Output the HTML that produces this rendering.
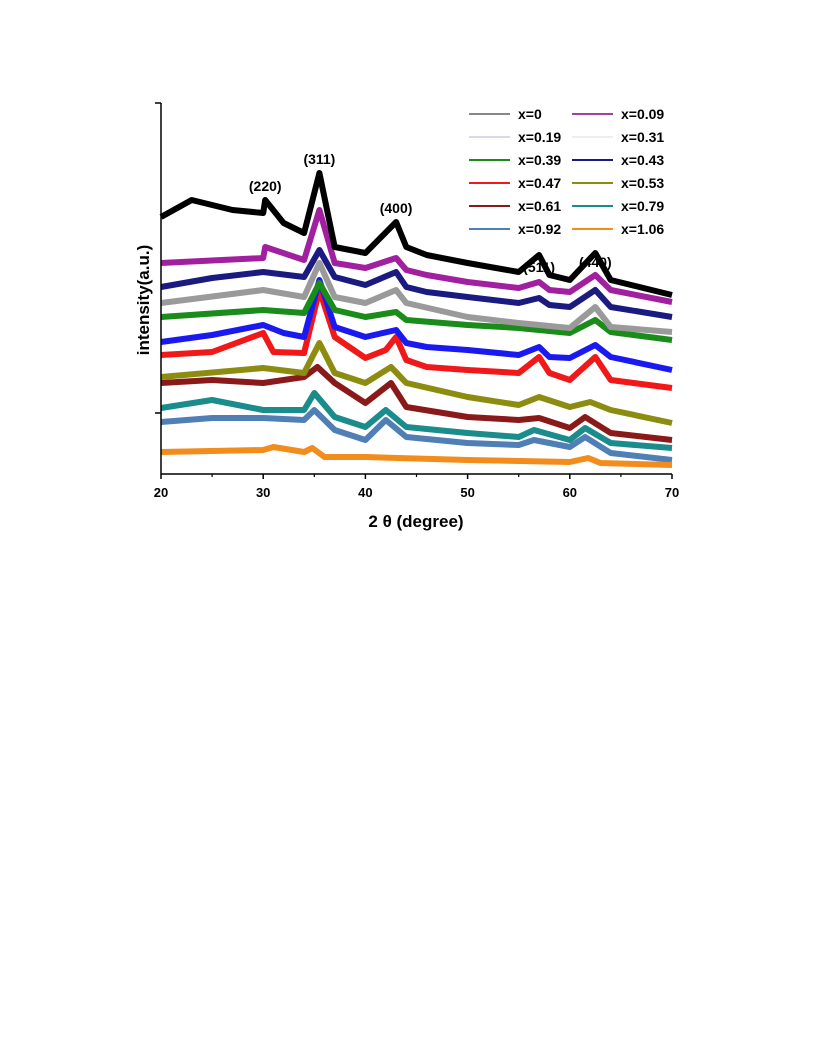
<!DOCTYPE html>
<html><head><meta charset="utf-8"><style>
body{margin:0;background:#fff;}
svg{display:block;font-family:"Liberation Sans",sans-serif;}
</style></head><body>
<svg id="chart" width="816" height="1056" viewBox="0 0 816 1056">
<g id="series"></g>
<g id="axes"></g>
<g id="legend"></g>
<g id="peaks"></g>
</svg>
<script>
// X positions (2θ, degree) and intensities (a.u.) for each series
const xBlack=[20,23,27,30,30.2,32,34,35.5,37,40,43,44,46,50,55,57,58,60,62.5,64,70];
const yBlack=[257,274,264,261,274,251,241,301,227,221,252,227,219,211,202,219,199,194,221,194,179];
const xPurple=[20,30,30.2,34,35.5,37,40,43,44,46,50,55,57,58,60,62.5,64,70];
const yPurple=[211,216,227,214,264,211,206,216,204,199,192,186,192,184,182,199,184,172];
const xNavy=[20,25,30,34,35.5,37,40,43,44,46,50,55,57,58,60,62.5,64,70];
const yNavy=[187,196,202,197,224,197,189,202,187,182,177,171,176,169,167,184,167,157];
const xGray=[20,30,34,35.5,37,40,43,44,50,55,60,62.5,64,70];
const yGray=[171,184,177,211,177,171,184,171,157,151,146,167,147,142];
const xGreen=[20,30,34,35.5,37,40,43,44,50,55,60,62.5,64,70];
const yGreen=[157,164,161,191,164,157,162,154,149,146,141,154,142,134];
const xBlue=[20,25,30,32,34,35.5,37,40,43,44,46,50,55,57,58,60,62.5,64,70];
const yBlue=[132,139,149,141,137,194,147,137,144,131,127,124,119,127,117,116,129,117,104];
const xRed=[20,25,30,31,34,35.5,37,40,42,43,44,46,50,55,57,58,60,62.5,64,70];
const yRed=[119,122,141,122,121,184,137,116,124,137,114,107,104,101,117,101,94,117,94,86];
const xOlive=[20,30,34,35.5,37,40,42.5,44,50,55,57,60,62,64,70];
const yOlive=[97,106,101,131,101,91,107,91,77,69,77,67,72,64,51];
const xDarkred=[20,25,30,34,35.3,37,40,42.5,44,50,55,57,60,61.5,64,70];
const yDarkred=[91,94,91,97,107,91,71,91,67,57,54,56,46,57,41,34];
const xTeal=[20,25,30,34,35,37,40,42,44,50,55,56.5,60,61.5,64,70];
const yTeal=[66,74,64,64,81,57,47,64,47,41,37,44,34,46,31,26];
const xSteel=[20,25,30,34,35,37,40,42,44,50,55,56.5,60,61.5,64,70];
const ySteel=[52,56,56,54,64,44,34,54,37,31,29,34,27,37,21,14];
const xOrange=[20,30,31,34,34.8,36,40,50,60,61.8,63,70];
const yOrange=[22,24,27,22,26,17,17,14,12,16,11,9];
const seriesNames=["x=0.92","x=1.06","x=0.79","x=0.61","x=0.53","x=0.47","blue","x=0.39","x=0.19","x=0.43","x=0.09","x=0"];
const xTicks=[20,30,40,50,60,70];
const xMinor=[25,35,45,55,65];
const legendLabels=["x=0","x=0.09","x=0.19","x=0.31","x=0.39","x=0.43","x=0.47","x=0.53","x=0.61","x=0.79","x=0.92","x=1.06"];
const peakLabels=["(220)","(311)","(400)","(511)","(440)"];
const peakX=[30.2,35.5,43,57,62.5];
const peakY=[283,310,261,202,207];

const L=161,R=672,T=103,B=474;
const xs=v=>L+(v-20)/(70-20)*(R-L);
const ys=v=>B-v/371*(B-T);
const NS="http://www.w3.org/2000/svg";
function mk(tag,attrs,parent){const e=document.createElementNS(NS,tag);for(const k in attrs)e.setAttribute(k,attrs[k]);parent.appendChild(e);return e;}

const sg=document.getElementById('series');
const all=[[xSteel,ySteel,"#4f7fb5"],[xOrange,yOrange,"#f28c1c"],[xTeal,yTeal,"#1a8c8c"],[xDarkred,yDarkred,"#8a1a1a"],[xOlive,yOlive,"#8c8c10"],[xRed,yRed,"#f01818"],[xBlue,yBlue,"#1a1af0"],[xGreen,yGreen,"#1a8c1a"],[xGray,yGray,"#9a9a9a"],[xNavy,yNavy,"#1a1a80"],[xPurple,yPurple,"#a020a0"],[xBlack,yBlack,"#000"]];
all.forEach((s,i)=>{
  const d=s[0].map((x,j)=>(j?"L":"M")+xs(x).toFixed(1)+","+ys(s[1][j]).toFixed(1)).join("");
  const p=mk('path',{d:d,fill:"none",stroke:s[2],"stroke-width":6,"stroke-linejoin":"round"},sg);
  
  
});

const ag=document.getElementById('axes');
let e=mk('line',{x1:L,y1:T,x2:L,y2:B,stroke:"#000","stroke-width":1.5},ag);


e=mk('line',{x1:L,y1:B,x2:R,y2:B,stroke:"#000","stroke-width":1.5},ag);


mk('line',{x1:L-6,y1:T,x2:L,y2:T,stroke:"#000","stroke-width":1.5},ag);
mk('line',{x1:L-6,y1:413,x2:L,y2:413,stroke:"#000","stroke-width":1.5},ag);
xTicks.forEach(t=>{
  mk('line',{x1:xs(t),y1:B,x2:xs(t),y2:B+5,stroke:"#000","stroke-width":1.5},ag);
  const tx=mk('text',{x:xs(t),y:B+23,"text-anchor":"middle","font-size":13,"font-weight":"bold"},ag);
  tx.textContent=t;
  
  
});
xMinor.forEach(t=>mk('line',{x1:xs(t),y1:B,x2:xs(t),y2:B+3,stroke:"#000","stroke-width":1.2},ag));
e=mk('text',{x:416,y:527,"text-anchor":"middle","font-size":17,"font-weight":"bold"},ag);
e.textContent="2 θ (degree)";


e=mk('text',{x:0,y:0,"text-anchor":"middle","font-size":17,"font-weight":"bold",transform:"translate(149,300) rotate(-90)"},ag);
e.textContent="intensity(a.u.)";



const lg=document.getElementById('legend');
const swatch=["#888","#a040a0","#d8d8f0","#eeeeee","#1a8c1a","#1a1a80","#f01818","#8c8c10","#8a1a1a","#1a8c8c","#4f7fb5","#f28c1c"];
legendLabels.forEach((lab,i)=>{
  const col=i%2,row=Math.floor(i/2);
  const x0=col?572:469,y0=114+row*23;
  const g=mk('g',{},lg);
  
  
  mk('line',{x1:x0,y1:y0,x2:x0+41,y2:y0,stroke:swatch[i],"stroke-width":2},g);
  const t=mk('text',{x:x0+49,y:y0+5,"font-size":14,"font-weight":"bold"},g);
  t.textContent=lab;
});

const pg=document.getElementById('peaks');
peakLabels.forEach((lab,i)=>{
  const t=mk('text',{x:xs(peakX[i]),y:ys(peakY[i]),"text-anchor":"middle","font-size":14,"font-weight":"bold"},pg);
  t.textContent=lab;
  
  
});
</script>
</body></html>
